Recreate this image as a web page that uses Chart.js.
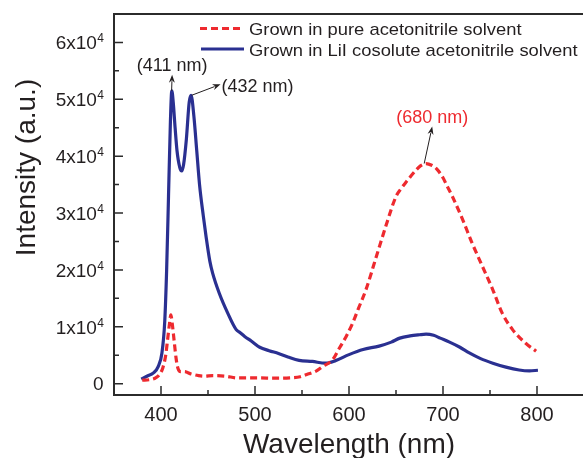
<!DOCTYPE html>
<html>
<head>
<meta charset="utf-8">
<script src="https://cdn.jsdelivr.net/npm/chart.js@4.4.1/dist/chart.umd.min.js"></script>
<style>
  html, body { margin: 0; padding: 0; background: #fff; overflow: hidden; width: 583px; height: 458px; }
  canvas { display: block; }
</style>
</head>
<body>
<canvas id="pl" width="590" height="458"></canvas>
<script>
// Photoluminescence spectra (wavelength in nm, intensity in a.u.)
const pureWavelength = [380, 388, 393, 398, 402, 405, 407, 409, 410.5, 412, 414, 416, 418, 421, 425, 432, 440, 446, 455, 469, 481, 495, 505, 520, 537, 548, 555, 565, 572, 583, 590, 597, 604, 610, 618, 629, 639, 650, 655, 661, 671, 676, 682, 688, 693, 700, 703, 710, 721, 731, 742, 753, 763, 774, 788, 799];
const pureIntensity  = [600, 700, 900, 1500, 2800, 5000, 7700, 10500, 12100, 10500, 7500, 4500, 2700, 2100, 2100, 1700, 1400, 1300, 1400, 1300, 1000, 1000, 1000, 950, 1000, 1200, 1600, 2200, 3000, 4300, 6300, 8300, 10700, 13200, 16500, 22300, 27600, 32900, 34200, 35500, 37500, 38300, 38700, 38400, 37800, 36200, 35200, 32900, 28800, 24700, 20600, 16500, 12400, 9500, 7100, 5700];

const liiWavelength = [379, 385, 392, 397, 401, 404, 406, 408, 410, 411.5, 413, 415, 417, 420, 422, 424, 427, 430, 432, 435, 438, 441, 445, 448, 452, 455, 462, 471, 480, 484, 489, 496, 505, 515, 525, 535, 547, 561, 575, 585, 600, 615, 632, 645, 654, 665, 675, 682, 690, 697, 707, 718, 728, 740, 753, 767, 781, 792, 801];
const liiIntensity  = [800, 1300, 1900, 3000, 5400, 11000, 20000, 33000, 46000, 51500, 49500, 45000, 41000, 38000, 37400, 38500, 43000, 49500, 50700, 47000, 41000, 35000, 29500, 25800, 21500, 19400, 15900, 12400, 9500, 9000, 8300, 7500, 6400, 5800, 5300, 4700, 4100, 3900, 3600, 4000, 5100, 6000, 6600, 7300, 8000, 8400, 8600, 8700, 8500, 8000, 7300, 6400, 5400, 4400, 3600, 2900, 2400, 2250, 2350];

const seriesNames = ['Grown in pure acetonitrile solvent', 'Grown in LiI cosolute acetonitrile solvent'];

const xMajorTicks = [400, 500, 600, 700, 800];
const xMinorTicks = [450, 550, 650, 750];
const yMajorTicks = [0, 10000, 20000, 30000, 40000, 50000, 60000];
const yMinorTicks = [5000, 15000, 25000, 35000, 45000, 55000];
const yTickMantissa = ['0', '1x10', '2x10', '3x10', '4x10', '5x10', '6x10'];
const yTickExponent = ['', '4', '4', '4', '4', '4', '4'];

const peakLabels = ['(411 nm)', '(432 nm)', '(680 nm)'];
const peakWavelength = [411.3, 432.5, 680];
const peakIntensity = [51500, 50700, 38700];

const FONT = '"Liberation Sans", Arial, Helvetica, sans-serif';
const INK = '#231f20';
const RED = '#ee2a2f';
const BLUE = '#2a3091';

function pairs(xs, ys) { return xs.map((x, i) => ({ x: x, y: ys[i] })); }

function arrow(ctx, x1, y1, x2, y2, color) {
  const a = Math.atan2(y2 - y1, x2 - x1);
  const L = 8, W = 3;
  ctx.save();
  ctx.strokeStyle = color; ctx.fillStyle = color; ctx.lineWidth = 1; ctx.setLineDash([]);
  ctx.beginPath();
  ctx.moveTo(x1, y1);
  ctx.lineTo(x2 - Math.cos(a) * L * 0.8, y2 - Math.sin(a) * L * 0.8);
  ctx.stroke();
  ctx.beginPath();
  ctx.moveTo(x2, y2);
  ctx.lineTo(x2 - Math.cos(a) * L - Math.sin(a) * W, y2 - Math.sin(a) * L + Math.cos(a) * W);
  ctx.lineTo(x2 - Math.cos(a) * L * 0.7, y2 - Math.sin(a) * L * 0.7);
  ctx.lineTo(x2 - Math.cos(a) * L + Math.sin(a) * W, y2 - Math.sin(a) * L - Math.cos(a) * W);
  ctx.closePath();
  ctx.fill();
  ctx.restore();
}

// text drawn slightly widened horizontally
function wideText(ctx, txt, x, y, sx) {
  ctx.save();
  ctx.translate(x, y);
  ctx.scale(sx, 1);
  ctx.fillText(txt, 0, 0);
  ctx.restore();
}

const decorations = {
  id: 'decorations',
  afterDraw(chart) {
    const ctx = chart.ctx;
    const xs = chart.scales.x, ys = chart.scales.y;
    const area = chart.chartArea;
    ctx.save();

    // frame top and right edges
    ctx.strokeStyle = '#2b2b2b';
    ctx.lineWidth = 2;
    ctx.beginPath();
    ctx.moveTo(area.left - 1, area.top);
    ctx.lineTo(area.right, area.top);
    ctx.lineTo(area.right, area.bottom);
    ctx.stroke();

    // inward tick marks
    ctx.lineWidth = 1.5;
    ctx.beginPath();
    xMajorTicks.forEach(v => { const p = xs.getPixelForValue(v); ctx.moveTo(p, area.bottom); ctx.lineTo(p, area.bottom - 9); });
    xMinorTicks.forEach(v => { const p = xs.getPixelForValue(v); ctx.moveTo(p, area.bottom); ctx.lineTo(p, area.bottom - 5); });
    yMajorTicks.forEach(v => { const p = ys.getPixelForValue(v); ctx.moveTo(area.left, p); ctx.lineTo(area.left + 9, p); });
    yMinorTicks.forEach(v => { const p = ys.getPixelForValue(v); ctx.moveTo(area.left, p); ctx.lineTo(area.left + 5, p); });
    ctx.stroke();

    ctx.fillStyle = INK;
    // x tick labels
    ctx.font = '20px ' + FONT;
    ctx.textAlign = 'center';
    ctx.textBaseline = 'alphabetic';
    xMajorTicks.forEach(v => ctx.fillText(String(v), xs.getPixelForValue(v), area.bottom + 25.5));

    // y tick labels with superscript exponent
    ctx.textAlign = 'left';
    const rightEdge = area.left - 10.5;
    yMajorTicks.forEach((v, i) => {
      const p = ys.getPixelForValue(v);
      ctx.font = '12px ' + FONT;
      const ws = yTickExponent[i] ? ctx.measureText(yTickExponent[i]).width : 0;
      ctx.font = '19px ' + FONT;
      const wm = ctx.measureText(yTickMantissa[i]).width;
      const x0 = rightEdge - wm - ws;
      ctx.fillText(yTickMantissa[i], x0, p + 6.8);
      if (yTickExponent[i]) {
        ctx.font = '12px ' + FONT;
        ctx.fillText(yTickExponent[i], x0 + wm + 0.5, p);
      }
    });

    // axis titles
    ctx.font = '28px ' + FONT;
    ctx.textAlign = 'center';
    ctx.fillText('Wavelength (nm)', (area.left + area.right) / 2, 453);
    ctx.save();
    ctx.translate(35, 167.5);
    ctx.rotate(-Math.PI / 2);
    ctx.fillText('Intensity (a.u.)', 0, 0);
    ctx.restore();

    // legend
    ctx.lineWidth = 3;
    ctx.strokeStyle = RED;
    ctx.setLineDash([7, 4]);
    ctx.beginPath(); ctx.moveTo(200, 28.5); ctx.lineTo(244, 28.5); ctx.stroke();
    ctx.setLineDash([]);
    ctx.strokeStyle = BLUE;
    ctx.beginPath(); ctx.moveTo(201, 49); ctx.lineTo(244, 49); ctx.stroke();
    ctx.font = '17px ' + FONT;
    ctx.textAlign = 'left';
    ctx.fillStyle = INK;
    wideText(ctx, seriesNames[0], 249, 34.5, 1.08);
    wideText(ctx, seriesNames[1], 249, 56, 1.08);

    // peak annotations
    const offsets = [[0.5, -16], [29, -11], [8, -37]];
    const colors = [INK, INK, RED];
    peakLabels.forEach((txt, i) => {
      const px = xs.getPixelForValue(peakWavelength[i]);
      const py = ys.getPixelForValue(peakIntensity[i]);
      const tx = px + offsets[i][0], ty = py + offsets[i][1];
      arrow(ctx, px, py, tx, ty, INK);
      ctx.font = '18px ' + FONT;
      ctx.fillStyle = colors[i];
      if (i === 1) { ctx.textAlign = 'left'; ctx.fillText(txt, tx + 1, ty + 7.5); }
      else { ctx.textAlign = 'center'; ctx.fillText(txt, tx, ty - 4); }
    });
    ctx.restore();
  }
};

new Chart(document.getElementById('pl'), {
  type: 'line',
  data: {
    datasets: [
      {
        label: seriesNames[0],
        data: pairs(pureWavelength, pureIntensity),
        borderColor: RED,
        borderWidth: 3.2,
        borderDash: [7, 4],
        borderCapStyle: 'butt',
        pointRadius: 0,
        fill: false,
        cubicInterpolationMode: 'monotone'
      },
      {
        label: seriesNames[1],
        data: pairs(liiWavelength, liiIntensity),
        borderColor: BLUE,
        borderWidth: 3.2,
        pointRadius: 0,
        fill: false,
        cubicInterpolationMode: 'monotone'
      }
    ]
  },
  options: {
    responsive: false,
    animation: false,
    layout: { padding: { top: 14, right: 6, left: 0, bottom: 0 } },
    plugins: { legend: { display: false }, tooltip: { enabled: false } },
    scales: {
      x: {
        type: 'linear', min: 350, max: 850,
        grid: { display: false },
        ticks: { display: false },
        border: { display: true, color: '#2b2b2b', width: 2 },
        afterFit(s) { s.height = 63; }
      },
      y: {
        type: 'linear', min: -2000, max: 65000,
        grid: { display: false },
        ticks: { display: false },
        border: { display: true, color: '#2b2b2b', width: 2 },
        afterFit(s) { s.width = 114; }
      }
    }
  },
  plugins: [decorations]
});
</script>
</body>
</html>
